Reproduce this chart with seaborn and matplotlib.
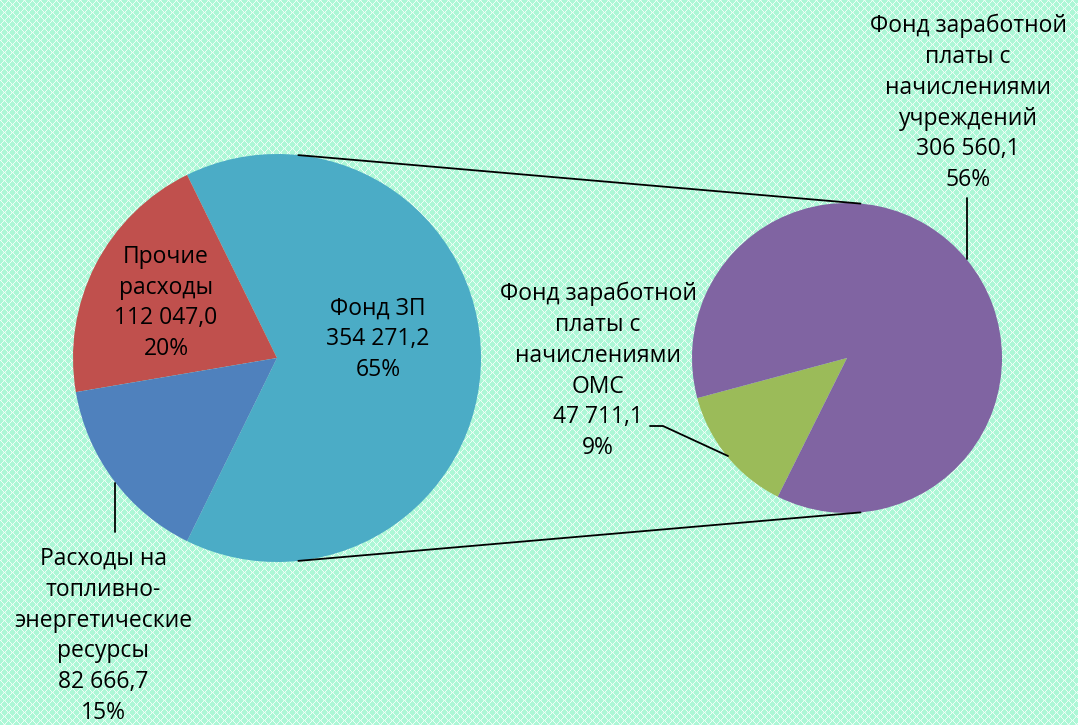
import matplotlib
matplotlib.use("Agg")
import matplotlib.pyplot as plt
import seaborn as sns
import numpy as np

sns.set_style("white")
plt.rcParams['font.family'] = ['Open Sans', 'DejaVu Sans']

# ---- data ----
main_labels = ["Фонд ЗП", "Прочие\nрасходы", "Расходы на\nтопливно-\nэнергетические\nресурсы"]
main_values = [354271.2, 112047.0, 82666.7]
sec_labels = ["Фонд заработной\nплаты с\nначислениями\nОМС",
              "Фонд заработной\nплаты с\nначислениями\nучреждений"]
sec_values = [47711.1, 306560.1]

main_colors = ["#4BACC6", "#C0504D", "#4F81BD"]
sec_colors = ["#9BBB59", "#8064A2"]

W, H = 1078, 725
total = sum(main_values)


def fmt(v):
    return f"{v:,.1f}".replace(",", " ").replace(".", ",")


def label_text(lbl, v):
    return f"{lbl}\n{fmt(v)}\n{round(v / total * 100):.0f}%"


fig = plt.figure(figsize=(W / 100, H / 100), dpi=100)
bg = np.array([172, 247, 214]) / 255.0
fig.patch.set_facecolor(bg)
ax = fig.add_axes([0, 0, 1, 1])
ax.set_facecolor(bg)

# background lattice texture (decorative)
ii, jj = np.mgrid[0:H, 0:W]
d1 = (ii + jj) % 8
d2 = (ii - jj) % 8
mask = ((d1 == 0) | (d2 == 0)).astype(float) * 0.8
mask = np.maximum(mask, (((d1 == 1) | (d2 == 1)) & ((d1 == 7) | (d2 == 7))).astype(float) * 0.4)
tex = bg[None, None, :] * (1 - mask[..., None]) + mask[..., None] * 1.0
ax.imshow(tex, extent=(0, W, 0, H), origin="upper", interpolation="nearest", zorder=0, aspect="auto")

Y = lambda y: H - y

# main pie
c1 = (277, Y(358))
r1 = 204
frac_main = main_values[0] / total * 360
ax.pie(main_values, colors=main_colors, startangle=-frac_main / 2, counterclock=True,
       center=c1, radius=r1, wedgeprops=dict(linewidth=0, zorder=2), frame=True)

# secondary pie
c2 = (847, Y(358))
r2 = 155
ax.pie(sec_values, colors=sec_colors, startangle=195, counterclock=True,
       center=c2, radius=r2, wedgeprops=dict(linewidth=0, zorder=2), frame=True)

ax.set_xlim(0, W)
ax.set_ylim(0, H)
ax.set_aspect("auto")
ax.axis("off")

# connector lines
for ang1, ang2 in [(84, 85), (-84, -85)]:
    a1, a2 = np.deg2rad(ang1), np.deg2rad(ang2)
    ax.plot([c1[0] + r1 * np.cos(a1), c2[0] + r2 * np.cos(a2)],
            [c1[1] + r1 * np.sin(a1), c2[1] + r2 * np.sin(a2)],
            color="black", lw=1.3, zorder=5)

fs = 16.5
ls = 1.38
kw = dict(ha="center", va="center", fontsize=fs, linespacing=ls, color="black", zorder=6)
ax.text(378, Y(339), label_text(main_labels[0], main_values[0]), **kw)
ax.text(166, Y(303), label_text(main_labels[1], main_values[1]), **kw)
ax.text(103, Y(636), label_text(main_labels[2], main_values[2]), **kw)
ax.text(598, Y(371), label_text(sec_labels[0], sec_values[0]), **kw)
ax.text(968, Y(103), label_text(sec_labels[1], sec_values[1]), **kw)

# leader lines
ax.plot([115, 115], [Y(483), Y(532)], color="black", lw=1.3, zorder=5)
ax.plot([650, 663, 728], [Y(426), Y(426), Y(456)], color="black", lw=1.3, zorder=5)
ax.plot([967, 967], [Y(198), Y(259)], color="black", lw=1.3, zorder=5)

fig.savefig("out.png", dpi=100, facecolor=fig.get_facecolor())
